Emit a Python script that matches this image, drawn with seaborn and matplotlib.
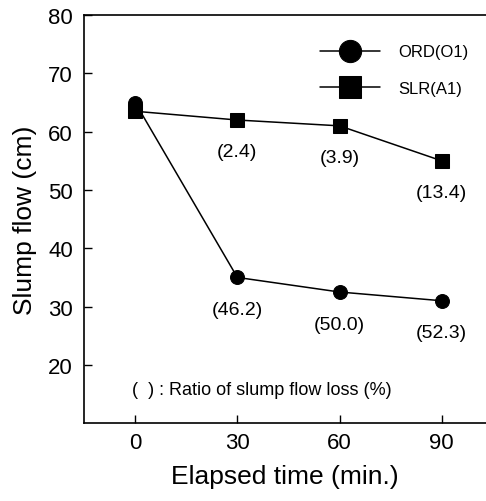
import matplotlib
matplotlib.use("Agg")
import matplotlib.pyplot as plt
import seaborn as sns
import pandas as pd

sns.set_style("ticks")
plt.rcParams['font.family'] = ['Liberation Sans', 'DejaVu Sans']
plt.rcParams.update({"text.color": "black", "axes.labelcolor": "black",
                     "xtick.color": "black", "ytick.color": "black",
                     "axes.edgecolor": "black"})

times = [0, 30, 60, 90]
ord_flow = [65.0, 35.0, 32.5, 31.0]
slr_flow = [63.5, 62.0, 61.0, 55.0]
ord_loss = ["", "(46.2)", "(50.0)", "(52.3)"]
slr_loss = ["", "(2.4)", "(3.9)", "(13.4)"]
series_names = ["ORD(O1)", "SLR(A1)"]

df = pd.DataFrame({
    "time": times * 2,
    "flow": ord_flow + slr_flow,
    "mix": [series_names[0]] * 4 + [series_names[1]] * 4,
})

fig = plt.figure(figsize=(4.86, 5.02), dpi=100)
ax = fig.add_axes([0.173, 0.155, 0.827, 0.813])

sns.lineplot(data=df, x="time", y="flow", hue="mix", style="mix",
             palette=["black", "black"], markers=["o", "s"], dashes=False,
             markersize=10, markeredgecolor="black", linewidth=1.1, ax=ax)

for t, v, lab in zip(times, slr_flow, slr_loss):
    if lab:
        ax.annotate(lab, (t, v), xytext=(0, -16.5), textcoords="offset points",
                    ha="center", va="top", fontsize=14)
for t, v, lab in zip(times, ord_flow, ord_loss):
    if lab:
        ax.annotate(lab, (t, v), xytext=(0, -17), textcoords="offset points",
                    ha="center", va="top", fontsize=14)

ax.text(-0.8, 15.8, "(  ) : Ratio of slump flow loss (%)", fontsize=13, va="center", ha="left")

ax.set_xlim(-15, 103)
ax.set_ylim(10, 80)
ax.set_xticks(times)
ax.set_yticks([20, 30, 40, 50, 60, 70, 80])
ax.tick_params(direction="in", length=6, labelsize=16, width=1)
ax.tick_params(axis="y", pad=8)
ax.tick_params(axis="x", pad=6)
ax.set_xlabel("Elapsed time (min.)", fontsize=19, labelpad=8)
ax.set_ylabel("Slump flow (cm)", fontsize=19, labelpad=8)
ax.spines["right"].set_visible(False)
for s in ["left", "bottom", "top"]:
    ax.spines[s].set_linewidth(1.2)
    ax.spines[s].set_color("black")

leg = ax.legend(title=None, frameon=False, loc="upper right", bbox_to_anchor=(0.995, 0.965),
                fontsize=12, markerscale=1.6, handlelength=3.6, labelspacing=1.3,
                handletextpad=1.1)

fig.savefig("out.png", dpi=100)
